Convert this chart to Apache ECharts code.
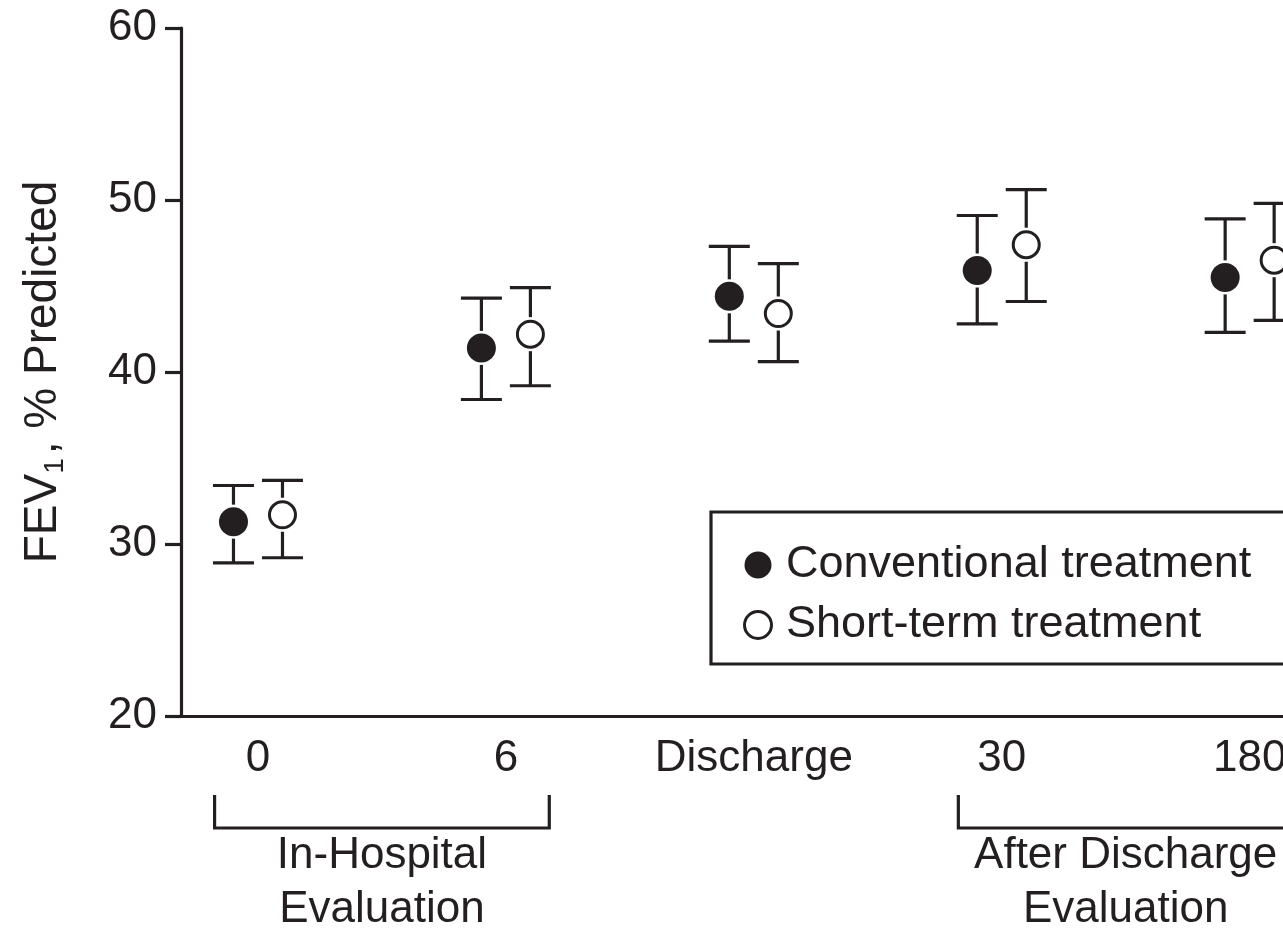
<!DOCTYPE html>
<html><head><meta charset="utf-8">
<script src="https://cdn.jsdelivr.net/npm/echarts@6/dist/echarts.min.js"></script>
<style>html,body{margin:0;padding:0;overflow:hidden;background:#fff;width:1283px;height:929px}#c{width:1420px;height:929px}</style>
</head><body><div id="c"></div>
<script>
const categories = ['0', '6', 'Discharge', '30', '180'];
const seriesNames = ['Conventional treatment', 'Short-term treatment'];
const convMean = [31.3, 41.4, 44.4, 45.9, 45.5];
const convLow = [28.9, 38.4, 41.8, 42.8, 42.3];
const convHigh = [33.4, 44.3, 47.3, 49.1, 48.9];
const shortMean = [31.7, 42.2, 43.4, 47.4, 46.5];
const shortLow = [29.2, 39.2, 40.6, 44.1, 43.0];
const shortHigh = [33.7, 44.9, 46.3, 50.6, 49.8];
const yTicks = [20, 30, 40, 50, 60];
const groupLabels = ['In-Hospital\nEvaluation', 'After Discharge\nEvaluation'];
const groupRanges = [[0, 1], [3, 4]];

const INK = '#231f20';
const FONT = "'Liberation Sans', Arial, Helvetica, sans-serif";
const OFF = 24.5;
const LW = 3.2;
const chart = echarts.init(document.getElementById('c'), null, {renderer: 'canvas'});

function errSeries(name, low, high, mean, off) {
  return {
    type: 'custom', name: name + ' err', silent: true, z: 2,
    data: categories.map((c, i) => [i, low[i], high[i], mean[i]]),
    renderItem: function (params, api) {
      const x = api.value(0);
      const pLo = api.coord([x, api.value(1)]);
      const pHi = api.coord([x, api.value(2)]);
      const pM = api.coord([x, api.value(3)]);
      const cx = pLo[0] + off, hw = 20.5, gap = 17;
      const st = {stroke: INK, lineWidth: LW};
      return {type: 'group', children: [
        {type: 'line', shape: {x1: cx - hw, y1: pHi[1], x2: cx + hw, y2: pHi[1]}, style: st},
        {type: 'line', shape: {x1: cx - hw, y1: pLo[1], x2: cx + hw, y2: pLo[1]}, style: st},
        {type: 'line', shape: {x1: cx, y1: pHi[1], x2: cx, y2: pM[1] - gap}, style: st},
        {type: 'line', shape: {x1: cx, y1: pM[1] + gap, x2: cx, y2: pLo[1]}, style: st}
      ]};
    }
  };
}

const option = {
  animation: false,
  textStyle: {fontFamily: FONT},
  grid: {left: 181, top: 28, bottom: 213, right: 21.6, containLabel: false},
  xAxis: {
    type: 'value', min: -0.3105, max: 4.6,
    splitLine: {show: false},
    axisLine: {show: true, onZero: false, lineStyle: {color: INK, width: LW}},
    axisTick: {show: false},
    axisLabel: {
      customValues: categories.map((c, i) => i),
      formatter: v => categories[Math.round(v)],
      color: INK, fontSize: 44, lineHeight: 44, margin: 21, fontFamily: FONT
    }
  },
  yAxis: {
    type: 'value', min: yTicks[0], max: yTicks[yTicks.length - 1], interval: 10,
    splitLine: {show: false},
    axisLine: {show: true, onZero: false, lineStyle: {color: INK, width: LW}},
    axisTick: {show: true, inside: false, length: 16, lineStyle: {color: INK, width: LW}},
    axisLabel: {color: INK, fontSize: 44, lineHeight: 44, margin: 24, fontFamily: FONT},
    name: '{a|FEV}{s|1}{a|, % Predicted}',
    nameLocation: 'middle', nameGap: 112, nameRotate: 90,
    nameTextStyle: {
      rich: {
        a: {fontSize: 46, lineHeight: 52, color: INK, fontFamily: FONT, verticalAlign: 'middle'},
        s: {fontSize: 28, lineHeight: 28, color: INK, fontFamily: FONT, verticalAlign: 'bottom', padding: [0, 4, 0, 0]}
      }
    }
  },
  legend: {
    orient: 'vertical', left: 711, top: 512,
    padding: [28, 60, 14, 32], itemGap: 10,
    itemWidth: 46, itemHeight: 27,
    borderColor: INK, borderWidth: LW, borderRadius: 0,
    backgroundColor: '#fff',
    textStyle: {color: INK, fontSize: 45, lineHeight: 50, fontFamily: FONT},
    data: [
      {name: seriesNames[0], icon: 'circle', itemStyle: {color: INK, borderWidth: 0}},
      {name: seriesNames[1], icon: 'circle', itemStyle: {color: '#fff', borderColor: INK, borderWidth: 3}}
    ]
  },
  series: [
    errSeries(seriesNames[0], convLow, convHigh, convMean, -OFF),
    errSeries(seriesNames[1], shortLow, shortHigh, shortMean, OFF),
    {
      type: 'scatter', name: seriesNames[0], z: 3,
      data: categories.map((c, i) => [i, convMean[i]]),
      symbol: 'circle', symbolSize: 29, symbolOffset: [-OFF, 0],
      itemStyle: {color: INK, opacity: 1}
    },
    {
      type: 'scatter', name: seriesNames[1], z: 3,
      data: categories.map((c, i) => [i, shortMean[i]]),
      symbol: 'circle', symbolSize: 26, symbolOffset: [OFF, 0],
      itemStyle: {color: '#fff', borderColor: INK, borderWidth: 3, opacity: 1}
    }
  ]
};
chart.setOption(option);

// group brackets below the axis, positioned through the x axis scale
const graphics = [];
groupRanges.forEach((r, k) => {
  const xl = chart.convertToPixel({xAxisIndex: 0}, r[0] - 0.175);
  const xr = chart.convertToPixel({xAxisIndex: 0}, r[1] + 0.175);
  const xm = chart.convertToPixel({xAxisIndex: 0}, (r[0] + r[1]) / 2);
  graphics.push({
    type: 'polyline', silent: true,
    shape: {points: [[xl, 795], [xl, 828], [xr, 828], [xr, 795]]},
    style: {stroke: INK, lineWidth: LW, fill: null}
  });
  graphics.push({
    type: 'text', silent: true, x: xm, y: 829,
    style: {text: groupLabels[k], fill: INK, font: "44px " + FONT, lineHeight: 54, align: 'center', verticalAlign: 'top'}
  });
});
chart.setOption({graphic: graphics});
</script></body></html>
